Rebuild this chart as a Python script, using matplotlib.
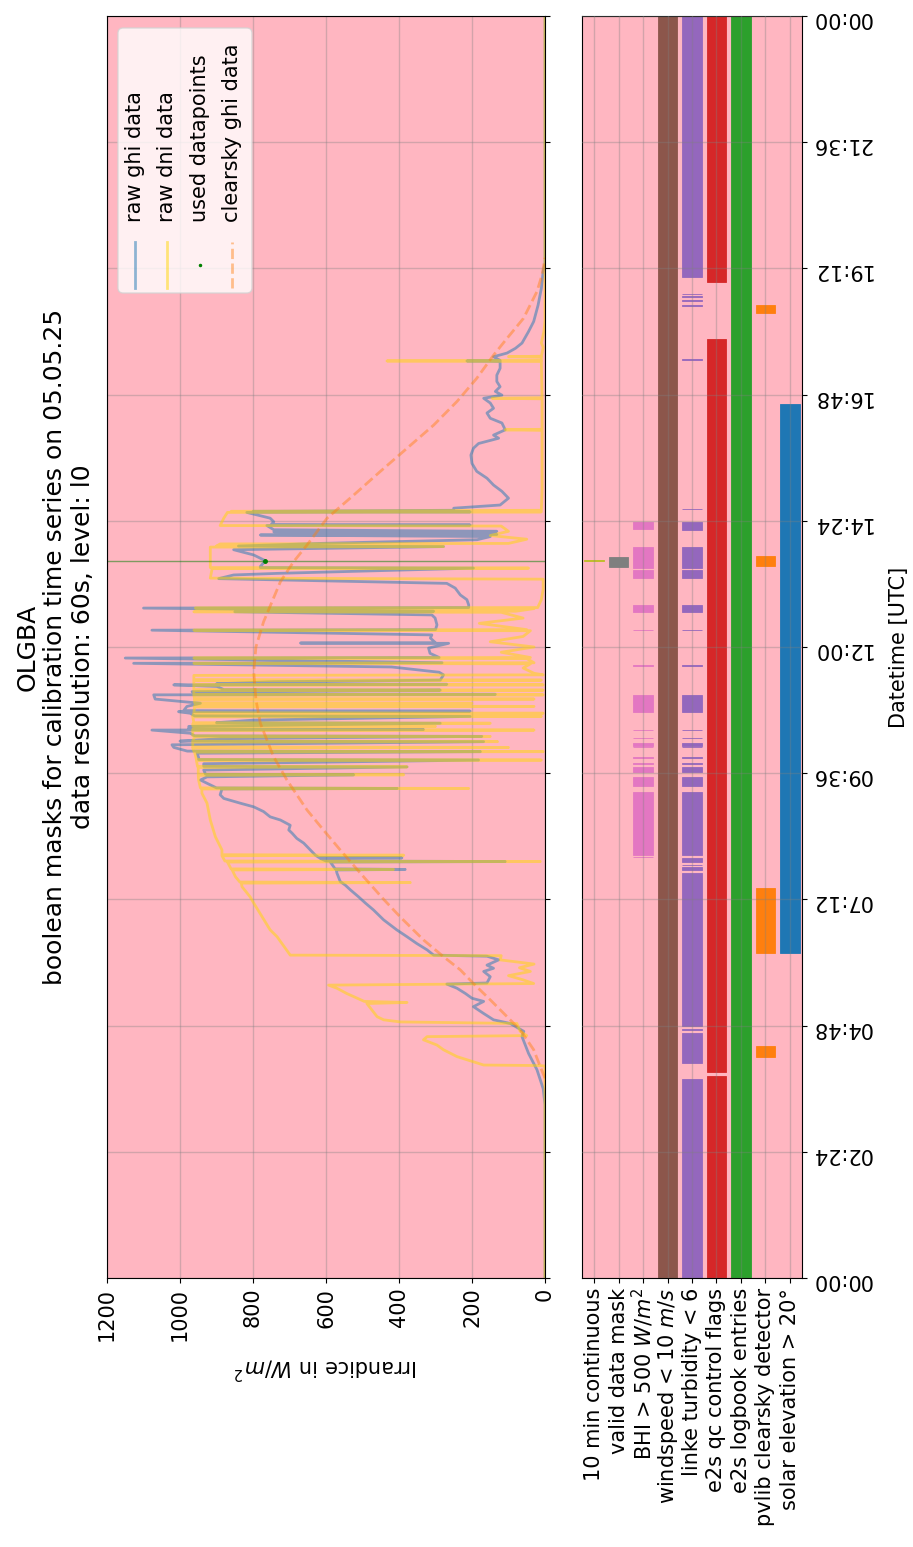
import datetime as dt

import matplotlib
matplotlib.use('Agg')
import matplotlib.dates as mdates
import matplotlib.pyplot as plt
import numpy as np
from matplotlib.lines import Line2D
from matplotlib.patches import FancyBboxPatch

plt.rcParams['font.size'] = 15

# --- data (hours UTC, W/m^2) ---
day = dt.datetime(2025, 5, 5)

ghi_hours = [0.0, 3.30, 3.60, 3.96, 4.27, 4.59, 4.69, 4.84, 4.91, 5.03, 5.16, 5.26, 5.32, 5.41, 5.51, 5.59,
             5.61, 5.73, 5.83, 5.89, 5.95, 6.05, 6.12, 6.14, 6.24, 6.36, 6.49, 6.62, 6.81, 7.00, 7.13, 7.25,
             7.38, 7.47, 7.54, 7.70, 7.76, 7.77, 7.78, 7.82, 7.91, 7.92, 7.93, 7.98, 7.99, 8.00, 8.04, 8.14,
             8.27, 8.36, 8.46, 8.52, 8.61, 8.71, 8.77, 8.87, 8.96, 9.03, 9.12, 9.19, 9.30, 9.31, 9.32, 9.41,
             9.47, 9.53, 9.57, 9.58, 9.66, 9.72, 9.73, 9.78, 9.85, 9.86, 9.90, 9.98, 10.01, 10.02, 10.09,
             10.14, 10.20, 10.21, 10.26, 10.30, 10.31, 10.36, 10.42, 10.43, 10.44, 10.49, 10.55, 10.56,
             10.61, 10.68, 10.69, 10.74, 10.77, 10.78, 10.79, 10.87, 10.93, 11.01, 11.09, 11.10, 11.11,
             11.15, 11.18, 11.19, 11.25, 11.28, 11.29, 11.30, 11.34, 11.37, 11.47, 11.52, 11.62, 11.69,
             11.70, 11.79, 11.80, 11.88, 11.98, 12.07, 12.075, 12.08, 12.17, 12.23, 12.32, 12.33, 12.42,
             12.55, 12.61, 12.67, 12.68, 12.74, 12.75, 12.80, 12.90, 12.99, 13.12, 13.21, 13.30, 13.37,
             13.40, 13.50, 13.51, 13.53, 13.64, 13.75, 13.85, 13.91, 13.92, 13.97, 14.04, 14.10, 14.13,
             14.14, 14.19, 14.20, 14.23, 14.31, 14.32, 14.33, 14.38, 14.45, 14.56, 14.57, 14.58, 14.60,
             14.64, 14.70, 14.83, 14.96, 15.08, 15.21, 15.34, 15.49, 15.65, 15.78, 15.87, 15.97, 16.03,
             16.13, 16.26, 16.35, 16.45, 16.54, 16.64, 16.73, 16.79, 16.86, 16.95, 17.05, 17.17, 17.30,
             17.43, 17.44, 17.45, 17.52, 17.59, 17.68, 17.78, 18.00, 18.19, 18.50, 18.82, 19.14, 19.30, 24.0]
ghi_values = [0, 0, 5, 22, 45, 63, 58, 95, 141, 168, 196, 168, 200, 218, 241, 269,
              159, 150, 168, 141, 159, 127, 159, 305, 323, 351, 378, 406, 442, 470, 492, 511,
              533, 547, 561, 570, 572, 383, 575, 579, 588, 109, 600, 616, 392, 620, 629, 643,
              661, 680, 693, 702, 698, 725, 753, 771, 798, 835, 880, 890, 885, 405, 900, 926,
              944, 926, 524, 930, 935, 378, 935, 935, 182, 949, 949, 953, 177, 980, 1017,
              1022, 168, 1000, 880, 173, 960, 972, 1077, 333, 976, 976, 287, 900,
              798, 205, 960, 972, 1004, 205, 990, 981, 944, 1068, 1072, 136, 960,
              967, 287, 880, 899, 1017, 269, 900, 743, 287, 278, 290, 420, 1127,
              282, 1150, 290, 315, 319, 264, 670, 300, 314, 310, 1077, 300, 296,
              301, 310, 850, 305, 1100, 209, 209, 214, 232, 246, 269, 894, 853,
              734, 196, 780, 780, 766, 798, 853, 278, 840, 616, 186, 150, 780,
              132, 743, 132, 743, 762, 205, 750, 743, 753, 817, 205, 800, 250,
              250, 123, 100, 118, 141, 159, 187, 200, 203, 196, 182, 127, 141,
              109, 118, 150, 159, 141, 150, 168, 118, 136, 123, 132, 132, 123,
              123, 214, 123, 141, 104, 81, 63, 45, 31, 19, 10, 5, 0, 0]

dni_hours = [0.0, 4.03, 4.04, 4.05, 4.21, 4.34, 4.43, 4.53, 4.59, 4.61, 4.69, 4.84, 4.87, 4.91, 4.97, 5.22,
             5.24, 5.26, 5.41, 5.51, 5.57, 5.60, 5.67, 5.75, 5.83, 5.90, 5.97, 6.05, 6.13, 6.14, 6.49, 6.62,
             7.13, 7.25, 7.44, 7.51, 7.52, 7.53, 7.63, 7.76, 7.77, 7.78, 7.91, 7.92, 7.93, 8.03, 8.04, 8.05,
             8.14, 8.39, 8.71, 9.03, 9.22, 9.30, 9.31, 9.32, 9.47, 9.56, 9.57, 9.58, 9.71, 9.72, 9.73, 9.84,
             9.85, 9.86, 10.00, 10.01, 10.02, 10.08, 10.09, 10.10, 10.19, 10.20, 10.21, 10.29, 10.30, 10.31,
             10.41, 10.42, 10.43, 10.48, 10.49, 10.50, 10.54, 10.55, 10.56, 10.67, 10.68, 10.69, 10.73,
             10.74, 10.75, 10.86, 10.87, 10.88, 10.92, 10.93, 10.94, 11.00, 11.01, 11.02, 11.08, 11.09,
             11.10, 11.17, 11.18, 11.19, 11.27, 11.28, 11.29, 11.36, 11.37, 11.38, 11.46, 11.47, 11.50,
             11.60, 11.68, 11.69, 11.70, 11.78, 11.79, 11.80, 11.90, 12.00, 12.10, 12.20, 12.31, 12.32,
             12.33, 12.45, 12.55, 12.66, 12.67, 12.68, 12.73, 12.74, 12.75, 12.90, 13.10, 13.29, 13.31,
             13.49, 13.50, 13.51, 13.90, 13.91, 13.92, 13.96, 13.97, 14.05, 14.12, 14.20, 14.30, 14.31,
             14.45, 14.56, 14.57, 14.58, 14.60, 15.00, 16.12, 16.13, 16.14, 16.72, 16.73, 16.74, 17.43,
             17.44, 17.45, 17.51, 17.52, 17.53, 17.70, 17.78, 18.00, 18.20, 24.0]
dni_values = [0, 0, 13, 168, 241, 278, 296, 333, 323, 50, 68, 77, 397, 442, 460, 488,
              378, 495, 543, 570, 593, 31, 60, 100, 40, 70, 30, 123, 120, 698, 734, 753,
              798, 808, 830, 832, 369, 836, 848, 857, 415, 860, 870, 13, 877, 885, 387, 885,
              885, 903, 917, 926, 940, 940, 209, 944, 949, 950, 387, 950, 950, 378, 952, 955,
              10, 955, 960, 5, 962, 965, 100, 965, 965, 130, 965, 960, 150, 965,
              965, 30, 965, 960, 300, 965, 965, 150, 962, 965, 10, 965, 962,
              5, 962, 960, 30, 960, 955, 200, 960, 960, 30, 960, 962, 5,
              962, 962, 5, 962, 962, 5, 962, 962, 10, 962, 962, 5, 30,
              60, 40, 962, 30, 50, 962, 40, 120, 30, 150, 60, 40, 962,
              50, 180, 60, 120, 962, 80, 30, 958, 20, 10, 5, 5, 917,
              912, 45, 917, 917, 278, 900, 890, 100, 50, 150, 100, 120, 890,
              880, 870, 10, 860, 10, 8, 8, 109, 8, 8, 145, 8, 10,
              433, 10, 10, 100, 10, 5, 10, 3, 0, 0]

clearsky_hours = [3.80, 4.02, 4.34, 4.72, 4.97, 5.29, 5.60, 5.86, 6.11, 6.43, 6.87, 7.20, 7.70, 8.14, 8.52,
                  8.90, 9.47, 9.92, 10.55, 11.00, 11.53, 12.00, 12.48, 13.24, 13.62, 13.94, 14.45, 14.89,
                  15.34, 15.78, 16.22, 16.67, 17.11, 17.55, 17.87, 18.25, 18.76, 19.08, 19.40]
clearsky_values = [0, 13, 31, 68, 104, 150, 196, 232, 278, 333, 397, 442, 506, 561, 607,
                   652, 707, 744, 780, 792, 798, 792, 771, 725, 689, 652, 597, 524,
                   451, 378, 305, 241, 187, 141, 104, 59, 22, 8, 0]

used_hours = [13.64]
used_values = [766]

mask_labels = ['10 min continuous', 'valid data mask', 'BHI > 500 $W/m^2$', 'windspeed < 10 $m/s$',
               'linke turbidity < 6', 'e2s qc control flags', 'e2s logbook entries',
               'pvlib clearsky detector', 'solar elevation > 20°']
mask_colors = ['tab:olive', 'tab:gray', 'tab:pink', 'tab:brown', 'tab:purple', 'tab:red', 'tab:green',
               'tab:orange', 'tab:blue']

bhi_intervals = [(8.00, 8.01), (8.04, 9.25), (9.35, 9.53), (9.63, 9.72), (9.78, 9.79), (9.88, 9.91),
                 (10.09, 10.10), (10.12, 10.18), (10.26, 10.27), (10.42, 10.43), (10.77, 11.09),
                 (11.64, 11.65), (12.32, 12.33), (12.67, 12.80), (13.31, 13.47), (13.50, 13.91),
                 (14.25, 14.38)]
linke_intervals = [(0.0, 3.78), (4.08, 4.65), (4.72, 4.74), (4.79, 7.70), (7.76, 7.82), (7.85, 7.86),
                   (7.92, 7.98)] + bhi_intervals[1:-1] + [(14.23, 14.38), (14.62, 14.63), (17.46, 17.48),
                                                          (18.49, 18.50), (18.58, 18.59), (18.66, 18.67),
                                                          (18.71, 18.72), (19.04, 24.0)]
mask_intervals = [
    [(13.63, 13.65)],
    [(13.53, 13.72)],
    bhi_intervals,
    [(0.0, 24.0)],
    linke_intervals,
    [(0.0, 3.84), (3.92, 17.85), (18.95, 24.0)],
    [(0.0, 24.0)],
    [(4.21, 4.41), (6.18, 7.42), (13.54, 13.73), (18.36, 18.50)],
    [(6.18, 16.62)],
]


def to_num(hours):
    return mdates.date2num(day) + np.asarray(hours, dtype=float) / 24.0


fig = plt.figure(figsize=(9.13, 15.47), dpi=100)
ax1 = fig.add_axes([107 / 913, 269 / 1547, 438 / 913, 1262 / 1547])
ax2 = fig.add_axes([582 / 913, 269 / 1547, 220 / 913, 1262 / 1547])

pink = 'lightpink'
for ax in (ax1, ax2):
    ax.set_facecolor(pink)
    ax.set_ylim(to_num(0), to_num(24))
    ax.set_yticks(to_num(np.arange(0, 24.01, 2.4)))
    ax.yaxis.set_major_formatter(mdates.DateFormatter('%H:%M'))
    ax.yaxis.tick_right()
    ax.grid(True, color='gray', alpha=0.35, lw=1)

# irradiance panel
ax1.plot(ghi_values, to_num(ghi_hours), color='C0', alpha=0.5, lw=2)
ax1.plot(dni_values, to_num(dni_hours), color='gold', alpha=0.5, lw=2)
ax1.plot(clearsky_values, to_num(clearsky_hours), color='C1', alpha=0.45, lw=2, ls='--')
ax1.axhline(to_num(used_hours[0]), color='green', alpha=0.5, lw=1)
ax1.plot(used_values, to_num(used_hours), '.', color='green', ms=5)
ax1.set_xlim(1200, 0)
ax1.set_xticks(np.arange(0, 1201, 200))
ax1.tick_params(axis='x', labelrotation=90)
ax1.tick_params(axis='y', labelright=False)
ax1.set_xlabel('Irrandice in $W/m^2$', rotation=180, labelpad=10)

fig.text(55 / 913, 1 - 647 / 1547,
         'OLGBA\nboolean masks for calibration time series on 05.05.25\ndata resolution: 60s, level: l0',
         rotation=90, ha='center', va='center', multialignment='center', fontsize=18)

# hand-built legend (figure is drawn sideways)
box = FancyBboxPatch((0.025, 0.7805), 0.306, 0.21, boxstyle='round,pad=0,rounding_size=0.012',
                     transform=ax1.transAxes, facecolor='white', alpha=0.8, edgecolor='lightgray',
                     mutation_aspect=438 / 1262, zorder=5)
ax1.add_patch(box)
leg_entries = [('raw ghi data', dict(color='C0', alpha=0.5, lw=2)),
               ('raw dni data', dict(color='gold', alpha=0.5, lw=2)),
               ('used datapoints', None),
               ('clearsky ghi data', dict(color='C1', alpha=0.45, lw=2, ls='--'))]
for i, (label, style) in enumerate(leg_entries):
    x = 0.064 + i * 0.074
    if style is None:
        ax1.plot([x], [0.803], '.', color='green', ms=3, transform=ax1.transAxes, zorder=6)
    else:
        ax1.add_line(Line2D([x, x], [0.7845, 0.821], transform=ax1.transAxes, zorder=6, **style))
    ax1.text(x, 0.837, label, rotation=90, ha='center', va='bottom', transform=ax1.transAxes,
             fontsize=15, zorder=6)

# mask panel
for i, (intervals, color) in enumerate(zip(mask_intervals, mask_colors)):
    starts = to_num([s for s, e in intervals])
    ends = to_num([e for s, e in intervals])
    ax2.bar([i] * len(intervals), ends - starts, bottom=starts, width=0.8, color=color,
            edgecolor=color, lw=0.6)
ax2.set_axisbelow(False)
ax2.set_xlim(-0.5, len(mask_labels) - 0.5)
ax2.set_xticks(range(len(mask_labels)))
ax2.set_xticklabels(mask_labels, rotation=90)
ax2.tick_params(axis='y', labelrotation=180)
ax2.yaxis.set_label_position('right')
ax2.set_ylabel('Datetime [UTC]', rotation=90, labelpad=12)

fig.savefig('out.png', dpi=100)
